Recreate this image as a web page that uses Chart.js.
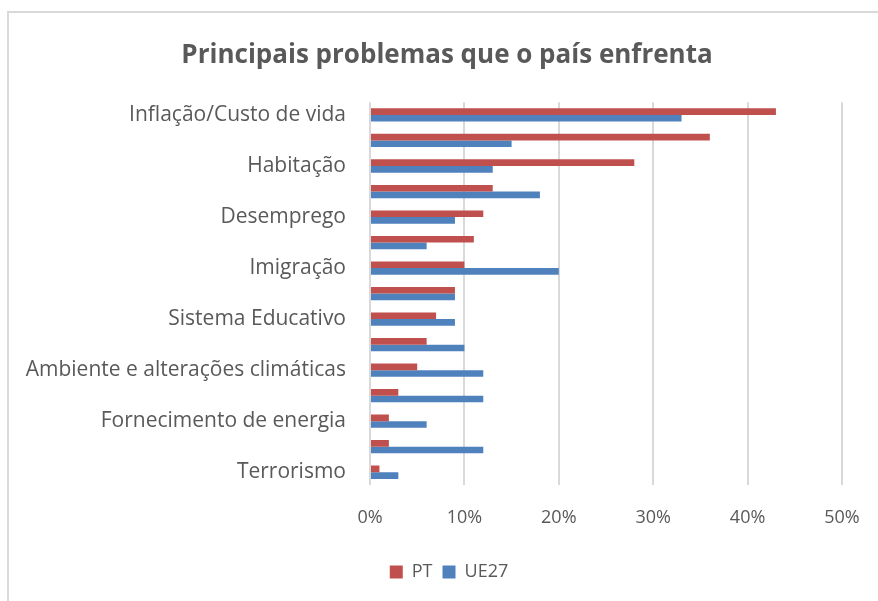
<!DOCTYPE html>
<html>
<head>
<meta charset="utf-8">
<script src="https://cdn.jsdelivr.net/npm/chart.js@4/dist/chart.umd.min.js"></script>
<style>
  html, body { margin: 0; padding: 0; background: #fff; }
  #wrap { position: relative; width: 878px; height: 601px; overflow: hidden; }
  #frame { position: absolute; left: 7px; top: 11px; width: 900px; height: 620px;
           border-top: 2px solid #d9d9d9; border-left: 2px solid #d9d9d9; }
  canvas { position: absolute; left: 0; top: 0; }
</style>
</head>
<body>
<div id="wrap">
  <div id="frame"></div>
  <canvas id="chart" width="878" height="601"></canvas>
</div>
<script>
// categorias (só metade aparece no eixo, como no Excel)
const categories = [
  'Inflação/Custo de vida', 'Sistema de saúde', 'Habitação', 'Situação económica',
  'Desemprego', 'Pensões', 'Imigração', 'Impostos', 'Sistema Educativo',
  'Dívida pública', 'Ambiente e alterações climáticas', 'Situação internacional',
  'Fornecimento de energia', 'Criminalidade', 'Terrorismo'
];
const ptValues   = [43, 36, 28, 13, 12, 11, 10, 9, 7, 6, 5, 3, 2, 2, 1];
const ue27Values = [33, 15, 13, 18, 9, 6, 20, 9, 9, 10, 12, 12, 6, 12, 3];
const xTicks = [0, 10, 20, 30, 40, 50];

const textColor = '#595959';
const font = 'Open Sans, Noto Sans, sans-serif';

// título e legenda do Excel ficam centrados na caixa inteira, não só no gráfico
const shiftBoxes = {
  id: 'shiftBoxes',
  afterLayout(chart) {
    chart.legend.left += 23;
    chart.legend.right += 23;
    chart.titleBlock.left += 21;
    chart.titleBlock.right += 21;
  }
};

new Chart(document.getElementById('chart'), {
  type: 'bar',
  data: {
    labels: categories,
    datasets: [
      { label: 'PT', data: ptValues, backgroundColor: '#C0504D', barPercentage: 1, categoryPercentage: 0.52 },
      { label: 'UE27', data: ue27Values, backgroundColor: '#4F81BD', barPercentage: 1, categoryPercentage: 0.52 }
    ]
  },
  plugins: [shiftBoxes],
  options: {
    indexAxis: 'y',
    responsive: false,
    animation: false,
    layout: { padding: { left: 10, right: 36, top: 22, bottom: 10 } },
    plugins: {
      title: {
        display: true,
        text: 'Principais problemas que o país enfrenta',
        color: textColor,
        font: { family: font, size: 26, weight: 'bold' },
        padding: { top: 18, bottom: 31 }
      },
      legend: {
        position: 'bottom',
        labels: {
          color: textColor,
          font: { family: font, size: 18 },
          boxWidth: 13, boxHeight: 13, padding: 10
        }
      },
      tooltip: { enabled: false }
    },
    scales: {
      x: {
        min: 0, max: 50,
        afterBuildTicks: s => { s.ticks = xTicks.map(v => ({ value: v })); },
        afterFit: s => { s.height = 68; s.paddingRight = 0; },
        ticks: {
          color: textColor,
          font: { family: font, size: 18 },
          padding: 22,
          callback: v => v + '%'
        },
        grid: { color: '#d9d9d9', lineWidth: 2, drawTicks: false },
        border: { display: false }
      },
      y: {
        afterFit: s => { s.width = 360; },
        ticks: {
          autoSkip: false,
          color: textColor,
          font: { family: font, size: 21 },
          padding: 24,
          callback: function (v, i) { return i % 2 === 0 ? this.getLabelForValue(v) : ''; }
        },
        grid: { display: false, drawTicks: false },
        border: { display: false }
      }
    }
  }
});
</script>
</body>
</html>
